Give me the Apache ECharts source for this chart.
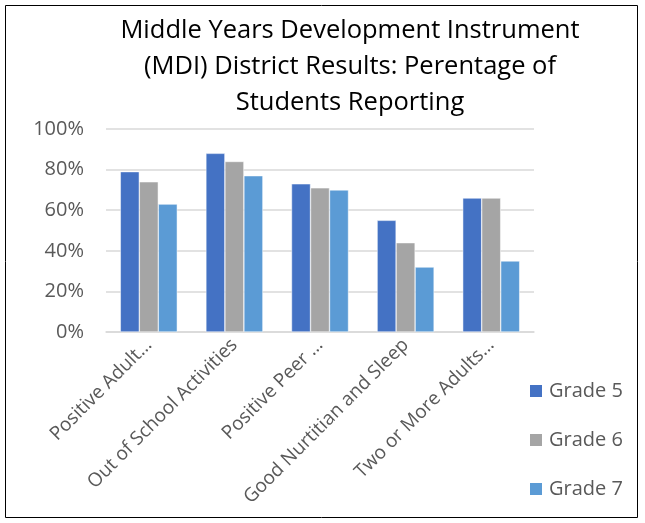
<!DOCTYPE html>
<html><head><meta charset="utf-8">
<script src="https://cdn.jsdelivr.net/npm/echarts@6/dist/echarts.min.js"></script>
<style>html,body{margin:0;padding:0;background:#fff}#c{width:645px;height:523px}</style>
</head><body><div id="c"></div>
<script>
var categories = ["Positive Adult…", "Out of School Activities", "Positive Peer …", "Good Nurtitian and Sleep", "Two or More Adults…"];
var grade5 = [79, 88, 73, 55, 66];
var grade6 = [74, 84, 71, 44, 66];
var grade7 = [63, 77, 70, 32, 35];
var seriesNames = ["Grade 5", "Grade 6", "Grade 7"];
var colors = ["#4472C4", "#A5A5A5", "#5B9BD5"];
var titleText = "Middle Years Development Instrument\n(MDI) District Results: Perentage of\nStudents Reporting";
var font = "Open Sans";

var chart = echarts.init(document.getElementById('c'));
var mk = function (name, data, i) {
  return { name: name, type: 'bar', data: data, barWidth: 19, barGap: '0%',
    itemStyle: { color: colors[i], borderColor: '#fff', borderWidth: 0.5 } };
};
chart.setOption({
  animation: false,
  graphic: [{ type: 'rect', shape: { x: 5.5, y: 5.5, width: 632, height: 512 },
    style: { fill: 'none', stroke: '#000', lineWidth: 1 }, silent: true }],
  title: { text: titleText, left: 345, textAlign: 'center', top: 8,
    textStyle: { fontFamily: font, fontSize: 25.5, fontWeight: 'normal', color: '#000', lineHeight: 36 } },
  grid: { left: 106, right: 111, top: 129, bottom: 191, containLabel: false },
  legend: { orient: 'vertical', left: 523, top: 376, itemWidth: 14, itemHeight: 14, itemGap: 29,
    icon: 'rect', data: seriesNames,
    textStyle: { fontFamily: font, fontSize: 20, color: '#595959', padding: [0, 0, 0, 1] } },
  xAxis: { type: 'category', data: categories,
    axisLine: { lineStyle: { color: '#d9d9d9', width: 1.5 } }, axisTick: { show: false },
    axisLabel: { rotate: 45, interval: 0, fontFamily: font, fontSize: 19, color: '#595959', margin: 10 } },
  yAxis: { type: 'value', min: 0, max: 100, interval: 20,
    axisLabel: { formatter: '{value}%', fontFamily: font, fontSize: 20, color: '#595959', margin: 22 },
    splitLine: { lineStyle: { color: '#d9d9d9', width: 1.5 } } },
  series: [mk(seriesNames[0], grade5, 0), mk(seriesNames[1], grade6, 1), mk(seriesNames[2], grade7, 2)]
});
</script></body></html>
